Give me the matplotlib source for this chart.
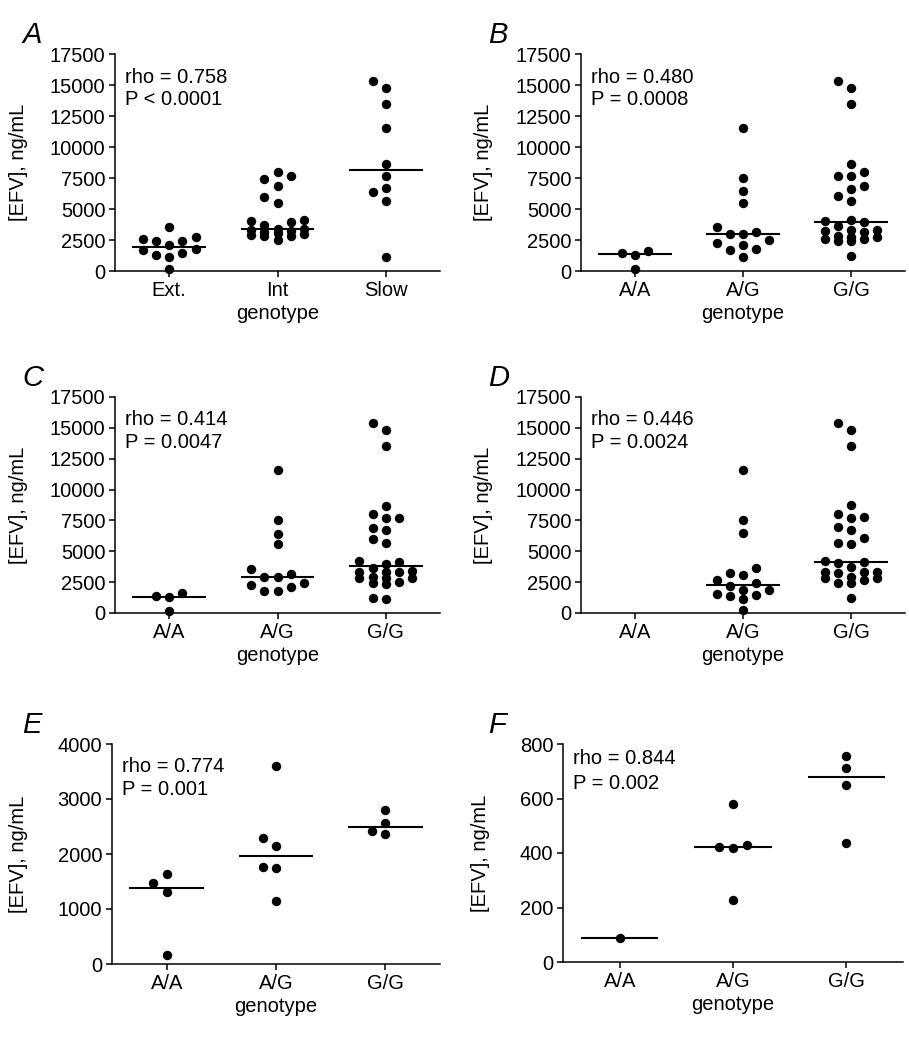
import matplotlib
matplotlib.use('Agg')
import matplotlib.pyplot as plt
import numpy as np

plt.rcParams['font.family'] = ['Liberation Sans', 'DejaVu Sans']
plt.rcParams['font.size'] = 14.5

# panel A: metabolizer class
a_labels = ['Ext.', 'Int', 'Slow']
a_ext = [3550, 2750, 2560, 2400, 2400, 2080, 1750, 1730, 1450, 1270, 1130, 190]
a_int = [7950, 7650, 7450, 6850, 6000, 5500, 4150, 4050, 3950, 3700, 3400,
         3350, 3300, 3250, 3150, 3050, 3000, 2900, 2800, 2800, 2500]
a_slow = [15350, 14750, 13450, 11550, 8650, 7650, 6700, 6400, 5650, 1150]

geno_labels = ['A/A', 'A/G', 'G/G']

# panel B
b_aa = [1620, 1450, 1270, 160]
b_ag = [11550, 7460, 6430, 5520, 3550, 3150, 3000, 2960, 2480, 2280, 2080,
        1780, 1730, 1130]
b_gg = [15350, 14750, 13450, 8650, 7950, 7650, 7650, 6850, 6650, 6050, 5650,
        4150, 4000, 3950, 3600, 3300, 3280, 3200, 3150, 2800, 2750, 2750,
        2600, 2550, 2420, 2400, 1200]

# panel C
c_aa = [1620, 1400, 1270, 130]
c_ag = [11600, 7500, 6400, 5550, 3570, 3170, 2950, 2950, 2430, 2270, 2080,
        1750, 1750]
c_gg = [15400, 14850, 13500, 8700, 8050, 7700, 7700, 6900, 6700, 6000, 5650,
        4200, 4100, 4000, 3650, 3400, 3300, 3300, 3300, 2900, 2850, 2850,
        2800, 2550, 2400, 2350, 1200, 1150]

# panel D
d_aa = []
d_ag = [11600, 7550, 6450, 3650, 3250, 3050, 2650, 2420, 2150, 1880, 1880,
        1560, 1480, 1340, 1130, 270]
d_gg = [15400, 14850, 13550, 8750, 8000, 7800, 7700, 7000, 6750, 6050, 5700,
        5600, 4250, 4150, 4050, 3750, 3350, 3350, 3350, 3250, 2900, 2850,
        2800, 2650, 2400, 2400, 1200]

# panel E
e_aa = [1640, 1470, 1310, 170]
e_ag = [3600, 2300, 2140, 1770, 1750, 1140]
e_gg = [2800, 2560, 2420, 2370]

# panel F
f_aa = [88]
f_ag = [580, 428, 423, 420, 226]
f_gg = [757, 712, 648, 436]

stats = {'A': ('rho = 0.758', 'P < 0.0001'),
         'B': ('rho = 0.480', 'P = 0.0008'),
         'C': ('rho = 0.414', 'P = 0.0047'),
         'D': ('rho = 0.446', 'P = 0.0024'),
         'E': ('rho = 0.774', 'P = 0.001'),
         'F': ('rho = 0.844', 'P = 0.002')}

W, H = 909, 1050


def swarm_x(center, values, step, thresh):
    # prism-like column layout, at most 5 columns wide
    values = np.asarray(values, dtype=float)
    xs = np.zeros(len(values))
    placed = []
    cols = [0, -1, 1, -2, 2]
    for i in np.argsort(values):
        v = values[i]
        gaps = []
        for k in cols:
            d = [abs(v - pv) for pk, pv in placed if pk == k]
            gaps.append(min(d) if d else np.inf)
        pick = None
        for k, g in zip(cols, gaps):
            if g >= thresh:
                pick = k
                break
        if pick is None:
            pick = cols[int(np.argmax(gaps))]
        placed.append((pick, v))
        xs[i] = center + pick * step
    return xs


def panel(box, groups, labels, ymax, ystep, letter, ylab_x, txt_y):
    left, top, w, h = box
    ax = fig.add_axes([left / W, 1 - (top + h) / H, w / W, h / H])
    ax.set_xlim(-0.5, 2.5)
    ax.set_ylim(0, ymax)
    per_px = ymax / h
    for i, vals in enumerate(groups):
        if len(vals) == 0:
            continue
        xs = swarm_x(i, vals, 0.122, 10.0 * per_px)
        ax.scatter(xs, vals, s=46, color='black', zorder=3, clip_on=False,
                   linewidths=0)
        med = np.median(vals)
        ax.plot([i - 0.34, i + 0.34], [med, med], color='black', lw=1.5,
                zorder=2, solid_capstyle='butt')
    ax.set_xticks(range(3))
    ax.set_xticklabels(labels)
    ax.set_yticks(np.arange(0, ymax + 1, ystep))
    ax.spines['top'].set_visible(False)
    ax.spines['right'].set_visible(False)
    for s in ['left', 'bottom']:
        ax.spines[s].set_linewidth(1.1)
    ax.tick_params(length=4.5, width=1.1, pad=2.5, labelsize=14.5)
    ax.set_xlabel('genotype', fontsize=14.5, labelpad=3)
    ax.set_ylabel('[EFV], ng/mL', fontsize=14.5)
    ax.yaxis.set_label_coords(ylab_x, 0.5)
    ax.text(0.03, txt_y[0], stats[letter][0], transform=ax.transAxes,
            fontsize=14.5, va='baseline')
    ax.text(0.03, txt_y[1], stats[letter][1], transform=ax.transAxes,
            fontsize=14.5, va='baseline')
    lx = 22 if left < 300 else 488
    fig.text(lx / W, 1 - (top - 11) / H, letter, fontsize=21,
             style='italic', va='baseline')
    return ax


fig = plt.figure(figsize=(9.09, 10.5), dpi=100)

panel((115, 54, 325, 217), [a_ext, a_int, a_slow], a_labels, 17500, 2500,
      'A', -0.268, (0.868, 0.766))
panel((581, 54, 324, 217), [b_aa, b_ag, b_gg], geno_labels, 17500, 2500,
      'B', -0.272, (0.868, 0.766))
panel((115, 397, 325, 216), [c_aa, c_ag, c_gg], geno_labels, 17500, 2500,
      'C', -0.268, (0.872, 0.765))
panel((581, 397, 324, 216), [d_aa, d_ag, d_gg], geno_labels, 17500, 2500,
      'D', -0.272, (0.872, 0.765))
panel((112, 744, 328, 220), [e_aa, e_ag, e_gg], geno_labels, 4000, 1000,
      'E', -0.256, (0.875, 0.766))
panel((563, 744, 340, 218), [f_aa, f_ag, f_gg], geno_labels, 800, 200,
      'F', -0.215, (0.908, 0.792))

fig.savefig('out.png', dpi=100)
